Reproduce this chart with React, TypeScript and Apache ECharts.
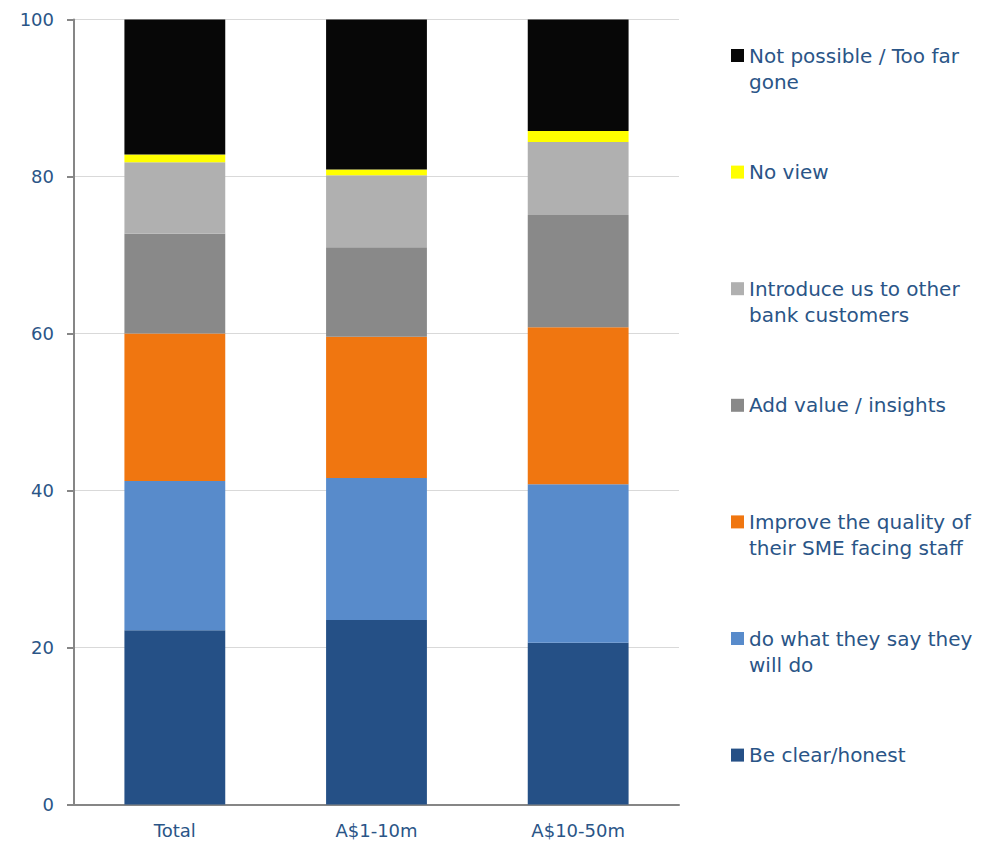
import React, { useEffect, useRef } from "react";
import * as echarts from "echarts";

const categories = ["Total", "A$1-10m", "A$10-50m"];
const seriesNames = [
  "Be clear/honest",
  "do what they say they will do",
  "Improve the quality of their SME facing staff",
  "Add value / insights",
  "Introduce us to other bank customers",
  "No view",
  "Not possible / Too far gone",
];
const legendLines = [
  ["Be clear/honest"],
  ["do what they say they", "will do"],
  ["Improve the quality of", "their SME facing staff"],
  ["Add value / insights"],
  ["Introduce us to other", "bank customers"],
  ["No view"],
  ["Not possible / Too far", "gone"],
];
const beClear = [22.2, 23.5, 20.6];
const doWhatTheySay = [19.0, 18.1, 20.2];
const improveStaff = [18.8, 18.0, 20.0];
const addValue = [12.7, 11.4, 14.3];
const introduce = [9.1, 9.15, 9.3];
const noView = [1.0, 0.75, 1.4];
const notPossible = [17.2, 19.1, 14.2];
const seriesValues = [beClear, doWhatTheySay, improveStaff, addValue, introduce, noView, notPossible];
const colors = ["#255086", "#588BCB", "#F07610", "#898989", "#B0B0B0", "#FFFF00", "#070707"];
const yTicks = [0, 20, 40, 60, 80, 100];

const TEXT = "#2A5587";
const FONT = "DejaVu Sans";

export default function App() {
  const ref = useRef<HTMLDivElement>(null);
  useEffect(() => {
    if (!ref.current) return;
    const chart = echarts.init(ref.current, undefined, { renderer: "svg" });
    const lh = 26;
    const fs = 20;
    const legends = seriesNames.map((name, i) => {
      const order = seriesNames.length - 1 - i;
      const center = 55.5 + order * 116.6;
      const lines = legendLines[i];
      const twoLine = lines.length > 1;
      return {
        show: true,
        orient: "vertical" as const,
        left: 731,
        top: twoLine ? center - 1.5 * lh : center - lh / 2,
        padding: 0,
        itemWidth: 13,
        itemHeight: 13,
        itemGap: 0,
        icon: "rect",
        selectedMode: false,
        data: [name],
        formatter: () =>
          twoLine ? `{pad| }\n{t|${lines[0]}}\n{t|${lines[1]}}` : `{t|${lines[0]}}`,
        textStyle: {
          color: TEXT,
          fontFamily: FONT,
          fontSize: fs,
          lineHeight: lh,
          rich: {
            pad: { fontSize: fs, lineHeight: lh, fontFamily: FONT },
            t: { fontSize: fs, lineHeight: lh, fontFamily: FONT, color: TEXT },
          },
        },
      };
    });
    chart.setOption({
      animation: false,
      backgroundColor: "#ffffff",
      grid: { left: 74, top: 19.5, right: 316, bottom: 40.5, containLabel: false },
      legend: legends,
      xAxis: {
        type: "category",
        data: categories,
        axisLine: { show: true, lineStyle: { color: "#868686", width: 2 } },
        axisTick: { show: false },
        axisLabel: { color: TEXT, fontFamily: FONT, fontSize: 18, margin: 17 },
      },
      yAxis: {
        type: "value",
        min: 0,
        max: 100,
        interval: 20,
        axisLine: { show: true, lineStyle: { color: "#868686", width: 2 } },
        axisTick: { show: true, length: 7, lineStyle: { color: "#868686", width: 2 } },
        axisLabel: {
          color: TEXT,
          fontFamily: FONT,
          fontSize: 18,
          margin: 20,
          formatter: (v: number) => (yTicks.includes(v) ? String(v) : ""),
        },
        splitLine: { show: true, lineStyle: { color: "#D9D9D9", width: 1 } },
      },
      series: seriesNames.map((name, i) => ({
        name,
        type: "bar",
        stack: "total",
        barWidth: "50%",
        data: seriesValues[i],
        itemStyle: { color: colors[i] },
      })),
    });
    return () => chart.dispose();
  }, []);
  return (
    <div
      ref={ref}
      style={{ position: "fixed", left: 0, top: 0, width: 995, height: 845, background: "#fff" }}
    />
  );
}
